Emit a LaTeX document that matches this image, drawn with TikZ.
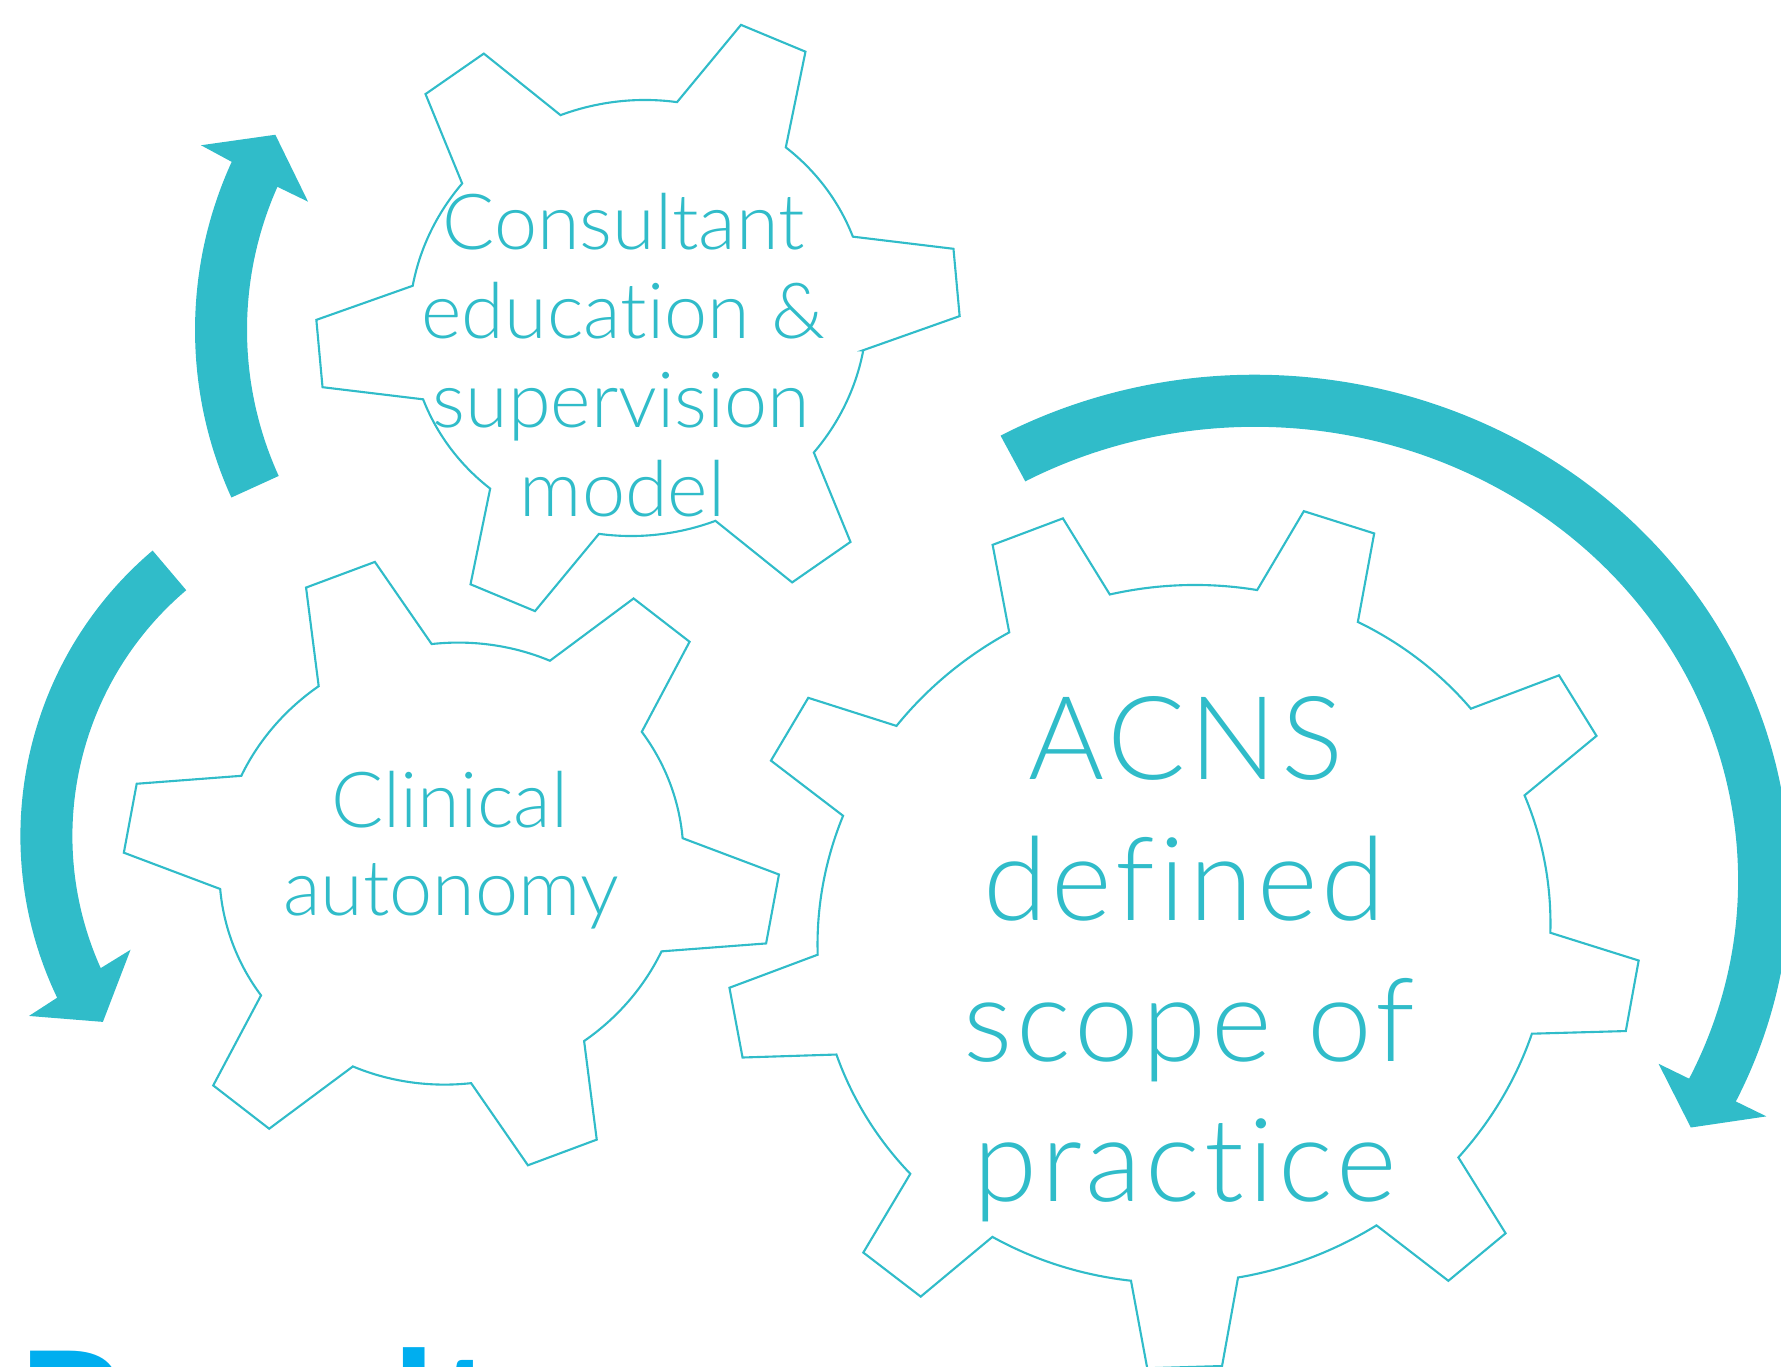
\documentclass[tikz,border=0pt]{standalone}
\usepackage{fontspec}
\setmainfont{Lato}
\newfontfamily\gearfont{Lato Light}[Ligatures=NoCommon]
\newfontfamily\biggearfont{Lato Light}[Ligatures=NoCommon, LetterSpace=3.5]
\definecolor{gearteal}{RGB}{48,188,201}
\definecolor{headblue}{RGB}{0,174,239}

% Outline of a cog: centre, teeth, phase, tip radius, tip half-angle,
% root radius, root half-angle (drawn slightly stretched and sheared)
\newcommand{\drawgear}[8]{%
  \begin{scope}[shift={(#1,#2)}, cm={1,0.015,0.015,1,(0,0)}, xscale=1.05]
    \pgfmathsetmacro{\gpitch}{360/#3}
    \pgfmathtruncatemacro{\glast}{#3-1}
    \draw[gearline] (#4-#8:#7)
      \foreach \k [evaluate=\k as \ga using #4+\k*\gpitch,
                   evaluate=\k as \gs using #4+\k*\gpitch+#8,
                   evaluate=\k as \ge using #4+(\k+1)*\gpitch-#8] in {0,...,\glast}{
        -- (\ga-#6:#5) -- (\ga+#6:#5) -- (\gs:#7)
        arc[start angle=\gs, end angle=\ge, radius=#7]
      } -- cycle;
  \end{scope}}

\begin{document}
\begin{tikzpicture}[x=0.01cm, y=0.01cm,
  gearline/.style={draw=gearteal, line width=0.6pt},
  bandfill/.style={fill=gearteal},
  gtext/.style={text=gearteal, inner sep=0pt, anchor=base,
    font=\gearfont\fontsize{22}{26}\selectfont},
  btext/.style={text=gearteal, inner sep=0pt, anchor=base,
    font=\biggearfont\fontsize{33}{40}\selectfont}]
\useasboundingbox (0,0) rectangle (1781,-1367);
\clip (0,0) rectangle (1781,-1367);

% cogs
\drawgear{638}{-318}{6}{5.8}{306.4}{6.35}{218}{15.2}
\drawgear{451.4}{-863.6}{6}{50.7}{312.6}{6.4}{221}{15}
\drawgear{1184}{-934}{9}{30.9}{434.8}{4.7}{349}{8.4}

% curved arrows
\begin{scope}[shift={(599,-330)}]
  \fill[bandfill] (204.5:404) arc[start angle=204.5, end angle=155.4, radius=404]
    -- (155.1:438.8) -- (148.9:378) -- (156.2:318) -- (156:352)
    arc[start angle=156, end angle=204.5, radius=352] -- cycle;
\end{scope}
\begin{scope}[shift={(394.7,-836)}]
  \fill[bandfill] (130.3:374.3) arc[start angle=130.3, end angle=205.6, radius=374.3]
    -- (206.2:407.6) -- (212.5:346) -- (203.3:287.6) -- (204.2:322.3)
    arc[start angle=204.2, end angle=130.3, radius=322.3] -- cycle;
\end{scope}
\begin{scope}[shift={(1255,-880)}]
  \fill[bandfill] (118.4:535 and 505.2)
    arc[start angle=118.4, end angle=-26, x radius=535, y radius=505.2]
    -- (-26:569 and 539.2) -- (-31.1:509 and 479.2) -- (-26:449 and 419.2)
    -- (-26:483 and 453.2)
    arc[start angle=-26, end angle=118.4, x radius=483, y radius=453.2] -- cycle;
\end{scope}

% labels
\node[gtext] (cons1) at (623.6,-249.5) {Consultant};
\node[gtext] (cons2) at (623.2,-338.3) {education \&};
\node[gtext] (cons3) at (621.4,-427.9) {supervision};
\node[gtext] (cons4) at (622.5,-516.6) {model};
\node[gtext] (clin1) at (449.7,-827.2) {Clinical};
\node[gtext] (clin2) at (451,-915.5) {autonomy};
\node[btext] (acns1) at (1186,-779.3) {ACNS};
\node[btext] (acns2) at (1184.5,-920.1) {defined};
\node[btext] (acns3) at (1188.8,-1061) {scope of};
\node[btext] (acns4) at (1185,-1201.3) {practice};

% heading running off the lower edge
\node[anchor=base west, inner sep=0pt, text=headblue,
  font=\bfseries\fontsize{49.7}{56}\selectfont] (heading) at (16,-1477) {Results};
\end{tikzpicture}
\end{document}
